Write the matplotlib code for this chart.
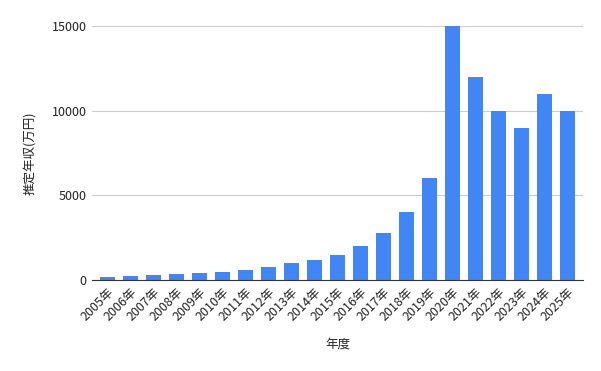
import matplotlib
matplotlib.use("Agg")
import matplotlib.pyplot as plt

plt.rcParams['font.family'] = ['Noto Sans CJK JP', 'DejaVu Sans']

years = [f"{y}年" for y in range(2005, 2026)]
values = [180, 240, 300, 350, 420, 500, 600, 780, 1000, 1200, 1500, 2000,
          2800, 4000, 6000, 15000, 12000, 10000, 9000, 11000, 10000]
yticks = [0, 5000, 10000, 15000]

fig = plt.figure(figsize=(6.01, 3.71), dpi=100)
ax = fig.add_axes([92/601, 1-280/371, (583-92)/601, (280-26)/371])
x = list(range(len(years)))
ax.bar(x, values, width=0.65, color='#4285F4', zorder=3)
ax.set_xlim(-0.67, len(years) - 0.33)
ax.set_ylim(0, 15000)
ax.set_yticks(yticks)
ax.set_yticklabels([str(t) for t in yticks], fontsize=9, color='#222222')
ax.set_xticks(x)
ax.set_xticklabels(years, rotation=45, ha='right', rotation_mode='anchor', fontsize=9, color='#222222')
ax.grid(axis='y', color='#cccccc', linewidth=0.8, zorder=0)
for s in ['top', 'right', 'left']:
    ax.spines[s].set_visible(False)
ax.spines['bottom'].set_color('#333333')
ax.spines['bottom'].set_zorder(4)
ax.tick_params(axis='y', length=0, pad=4)
ax.tick_params(axis='x', length=0, pad=4)
ax.set_ylabel('推定年収(万円)', fontsize=9, color='#222222', labelpad=10)
ax.set_xlabel('年度', fontsize=9, color='#222222', labelpad=10)
fig.savefig('out.png', dpi=100)
